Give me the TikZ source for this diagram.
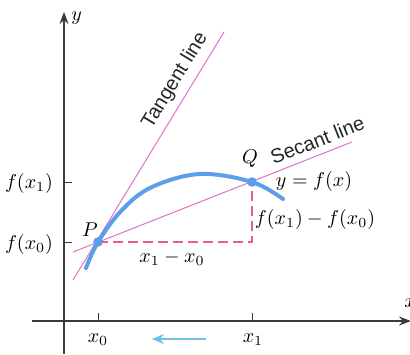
\documentclass[tikz,border=0pt]{standalone}
\usepackage{fontspec}
\newfontfamily\labelfont{Liberation Sans}
\usetikzlibrary{arrows.meta,positioning,calc}
\definecolor{pinkline}{HTML}{E070C8}
\definecolor{curveblue}{HTML}{5B9FE8}
\definecolor{dashred}{HTML}{E8607A}
\definecolor{arrowblue}{HTML}{6EC0E8}
\definecolor{axisgray}{HTML}{3A3A3A}

\begin{document}
\begin{tikzpicture}[x=0.5pt,y=-0.5pt,>=Stealth]
\tikzset{axis/.style={-{Stealth[length=6pt,width=4.5pt]},line width=0.7pt,color=axisgray}, tick/.style={line width=0.5pt,color=axisgray}, guide/.style={line width=0.5pt,color=pinkline}, graph/.style={line width=2pt,color=curveblue,line cap=round}, diff/.style={line width=0.8pt,color=dashred,dash pattern=on 5pt off 2.5pt}, word/.style={font=\labelfont\fontsize{10}{12}\selectfont,text=black!85}}
\useasboundingbox (0,0) rectangle (410,354);
% axes
\coordinate (ybot) at (64,354); \coordinate (ytop) at (64,12);
\coordinate (xleft) at (32,321); \coordinate (xright) at (411,321);
\draw[axis] (ybot) -- (ytop);
\draw[axis] (xleft) -- (xright);
\node[anchor=west,inner sep=1pt] (ylab) at (69,18) {$y$};
\node[anchor=west,inner sep=1pt] (xlab) at (402,303) {$x$};
% points and ticks
\coordinate (P) at (98,242);
\coordinate (Q) at (252,182);
\coordinate (R) at (252,242);
\draw[tick] (98,321) -- (98,313);
\draw[tick] (252,321) -- (252,313);
\draw[tick] (64,242) -- (72,242);
\draw[tick] (64,182) -- (72,182);
\node (x0) at (98,340) {$x_0$};
\node (x1) at (253,340) {$x_1$};
\node[anchor=east] (fx0) at (60,244) {$f(x_0)$};
\node[anchor=east] (fx1) at (60,183) {$f(x_1)$};
% tangent and secant
\draw[guide] (73,280) -- (224,32) node[word,sloped,above,pos=0.77] (tanlab) {Tangent line};
\draw[guide] (73,252) -- (352,142) node[word,sloped,above,pos=0.895] (seclab) {Secant line};
% differences
\draw[diff] (P) -- (R) -- (Q);
\node (dx) at (172,258) {$x_1-x_0$};
\node (dy) at (315,219) {$f(x_1)-f(x_0)$};
% curve
\draw[graph] plot[smooth,tension=0.6] coordinates {(86,268) (98,242) (122,210) (152,187) (200,174) (252,182) (283,199)};
\fill[curveblue] (P) circle (2.4pt);
\fill[curveblue] (Q) circle (2.4pt);
\node (Plab) at (90,230) {$P$};
\node (Qlab) at (250,159) {$Q$};
\node (flab) at (314,181) {$y=f(x)$};
% direction of x1 toward x0
\coordinate (atail) at (206,339); \coordinate (ahead) at (152,339);
\draw[-{Stealth[length=6pt,width=5pt]},line width=0.8pt,arrowblue] (atail) -- (ahead);
\end{tikzpicture}
\end{document}
